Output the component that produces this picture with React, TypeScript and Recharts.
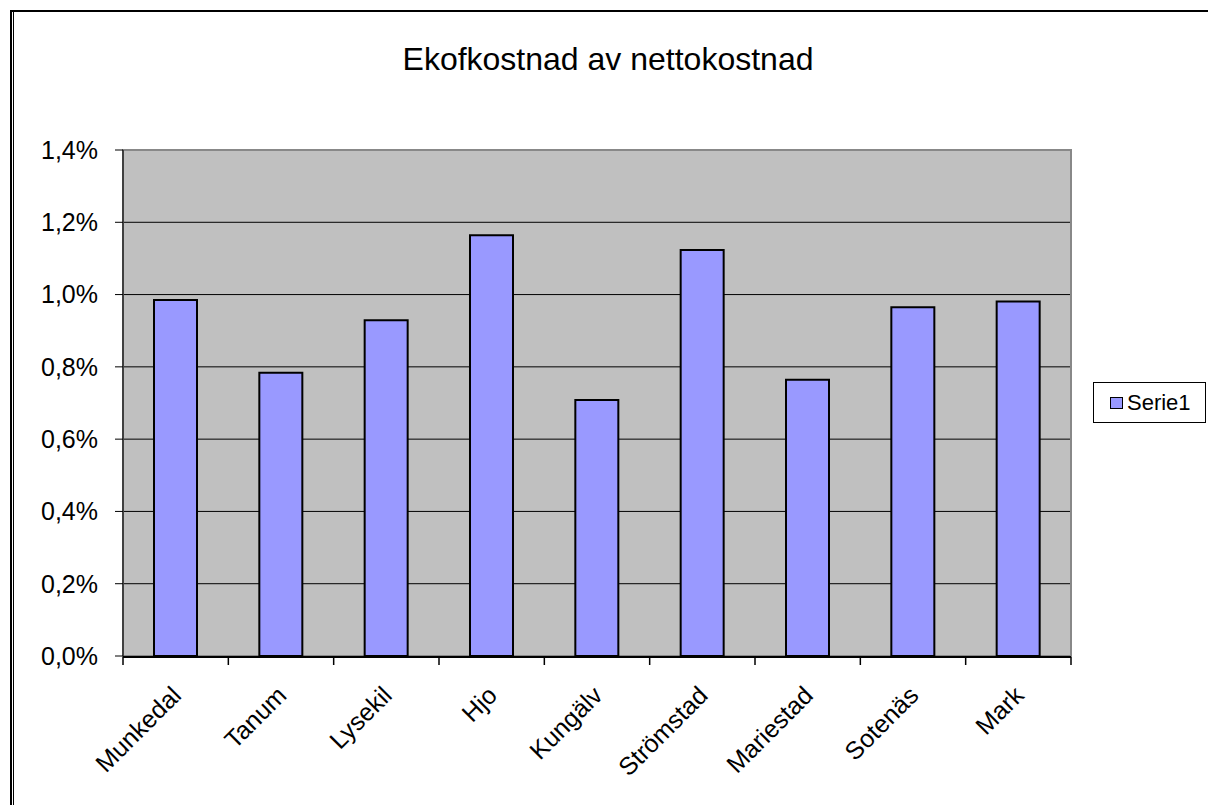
import React from "react";
import { BarChart, Bar, XAxis, YAxis, CartesianGrid, Legend, ReferenceArea } from "recharts";

const kommuner = ["Munkedal", "Tanum", "Lysekil", "Hjo", "Kungälv", "Strömstad", "Mariestad", "Sotenäs", "Mark"];
const serie1 = [0.985, 0.784, 0.929, 1.164, 0.708, 1.123, 0.764, 0.965, 0.981];
const yTicks = [0, 0.2, 0.4, 0.6, 0.8, 1.0, 1.2, 1.4];
const gridValues = [0.2, 0.4, 0.6, 0.8, 1.0, 1.2];
const boundaryTicks = [0, 1, 2, 3, 4, 5, 6, 7, 8, 9];

const data = kommuner.map((namn, i) => ({ namn, serie1: serie1[i] }));

const FONT = '"Liberation Sans", Arial, sans-serif';

const fmtPct = (v: number) => v.toFixed(1).replace(".", ",") + "%";

function CategoryTick(props: any) {
  const { x, y, payload } = props;
  return (
    <g transform={`translate(${x + 7},${y + 33})`}>
      <text x={0} y={0} textAnchor="end" transform="rotate(-45)" fontSize={25} fontFamily={FONT} fill="#000">
        {payload.value}
      </text>
    </g>
  );
}

function LegendBox() {
  return (
    <div
      style={{
        width: 113,
        height: 41,
        border: "1px solid #000",
        background: "#fff",
        display: "flex",
        alignItems: "center",
        boxSizing: "border-box",
        paddingLeft: 16,
        fontFamily: FONT,
        fontSize: 22,
      }}
    >
      <span style={{ width: 11, height: 10, border: "1px solid #000", background: "#9999FF", marginRight: 4 }} />
      <span>Serie1</span>
    </div>
  );
}

export default function App() {
  return (
    <div style={{ position: "absolute", left: 0, top: 0, width: 1208, height: 805, overflow: "hidden", background: "#fff" }}>
      {/* ramen: tjock topp, dubbel vänsterkant */}
      <div style={{ position: "absolute", left: 10, top: 10, width: 1198, height: 2, background: "#000" }} />
      <div style={{ position: "absolute", left: 10, top: 10, width: 2, height: 795, background: "#000" }} />
      <div style={{ position: "absolute", left: 13, top: 12, width: 1, height: 793, background: "#000" }} />
      <div
        style={{
          position: "absolute",
          left: 0,
          width: 1216,
          top: 41,
          textAlign: "center",
          fontFamily: FONT,
          fontSize: 32,
        }}
      >
        Ekofkostnad av nettokostnad
      </div>
      <div style={{ position: "absolute", left: 0, top: 0 }}>
        <BarChart width={1208} height={805} data={data} margin={{ top: 150, right: 137, left: 23, bottom: 147 }}>
          <CartesianGrid fill="#C0C0C0" stroke="#000" vertical={false} horizontalValues={gridValues} />
          <ReferenceArea y1={0} y2={1.4} fill="none" stroke="#888" strokeWidth={2} />
          <XAxis
            xAxisId="b"
            type="number"
            dataKey="idx"
            domain={[0, 9]}
            ticks={boundaryTicks}
            allowDataOverflow
            height={1}
            tickFormatter={() => ""}
            tickSize={8}
            tickLine={{ stroke: "#000", strokeWidth: 1.5 }}
            axisLine={{ stroke: "#000", strokeWidth: 2 }}
          />
          <XAxis dataKey="namn" height={1} tickLine={false} axisLine={false} tick={<CategoryTick />} interval={0} />
          <YAxis
            width={100}
            domain={[0, 1.4]}
            ticks={yTicks}
            tickFormatter={fmtPct}
            tickSize={8}
            tickMargin={17}
            axisLine={{ stroke: "#404040", strokeWidth: 2 }}
            tickLine={{ stroke: "#000" }}
            tick={{ fontSize: 25, fontFamily: FONT, fill: "#000" }}
          />
          <Legend
            layout="vertical"
            align="center"
            verticalAlign="middle"
            content={<LegendBox />}
            wrapperStyle={{ left: 1093, top: 382, width: 113, height: 41 }}
          />
          <Bar dataKey="serie1" name="Serie1" fill="#9999FF" stroke="#000" strokeWidth={2} barSize={43} isAnimationActive={false} />
        </BarChart>
      </div>
    </div>
  );
}
